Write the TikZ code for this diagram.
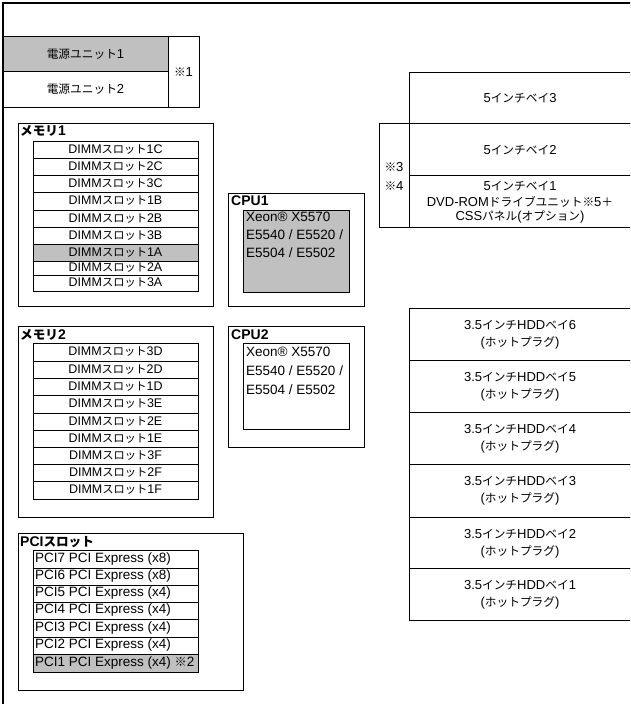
\documentclass[tikz,border=0pt]{standalone}
\usepackage{fontspec}
\setmainfont{Liberation Sans}
\newfontfamily\jp{Noto Sans CJK JP}[Scale=0.9]
\definecolor{boxgray}{RGB}{192,192,192}
\begin{document}
\begin{tikzpicture}[x=1pt,y=-1pt,
  ln/.style={line width=1pt},
  t/.style={inner sep=0pt, font=\fontsize{13}{16}\selectfont},
  tl/.style={inner sep=0pt, anchor=west, font=\fontsize{13.5}{16}\selectfont},
  ts/.style={inner sep=0pt, font=\fontsize{12.5}{15}\selectfont},
  hd/.style={inner sep=0pt, anchor=west, font=\bfseries\fontsize{14}{16}\selectfont}]
\useasboundingbox (0,0) rectangle (630,704);
\clip (0,0) rectangle (630,704);
% outer frame
\draw[line width=1.5pt] (3,705) -- (3,3) -- (631,3);
% power units
\draw[ln, fill=boxgray] (3,36) rectangle (168,71);
\draw[ln] (3,71) rectangle (168,107);
\draw[ln] (168,36) rectangle (199,107);
\node[t] (psu1) at (85.5,54) {{\jp 電源ユニット}1};
\node[t] (psu2) at (85.5,89) {{\jp 電源ユニット}2};
\node[t] (note1) at (183.5,72) {{\jp ※}1};
% memory 1
\draw[ln] (18,123) rectangle (213,306);
\node[hd] (mem1) at (20,131) {{\jp メモリ}1};
\fill[boxgray] (33,244) rectangle (198,261);
\foreach \ya/\yb/\lab [count=\i] in {141/158/1C,158/175/2C,175/192/3C,192/210/1B,210/227/2B,227/244/3B,244/261/1A,261/275/2A,275/291/3A}{
  \draw[ln] (33,\ya) rectangle (198,\yb);
  \node[ts] (mema\i) at (115.5,{(\ya+\yb)/2}) {DIMM{\jp スロット}\lab};
}
% memory 2
\draw[ln] (18,326) rectangle (213,517);
\node[hd] (mem2) at (20,335) {{\jp メモリ}2};
\foreach \ya/\yb/\lab [count=\i] in {343/361/3D,361/378/2D,378/395/1D,395/413/3E,413/430/2E,430/447/1E,447/464/3F,464/481/2F,481/499/1F}{
  \draw[ln] (33,\ya) rectangle (198,\yb);
  \node[ts] (memb\i) at (115.5,{(\ya+\yb)/2}) {DIMM{\jp スロット}\lab};
}
% CPU1
\draw[ln] (228,193) rectangle (364,306);
\node[hd] (cpu1) at (231,201) {CPU1};
\draw[ln, fill=boxgray] (243,210) rectangle (349,292);
\node[tl] (cpu1a) at (246,217) {Xeon® X5570};
\node[tl] (cpu1b) at (246,235) {E5540 / E5520 /};
\node[tl] (cpu1c) at (246,253) {E5504 / E5502};
% CPU2
\draw[ln] (228,326) rectangle (364,447);
\node[hd] (cpu2) at (231,335) {CPU2};
\draw[ln] (243,343) rectangle (349,429);
\node[tl] (cpu2a) at (246,352) {Xeon® X5570};
\node[tl] (cpu2b) at (246,371) {E5540 / E5520 /};
\node[tl] (cpu2c) at (246,390) {E5504 / E5502};
% PCI
\draw[ln] (18,533) rectangle (243,690);
\node[hd] (pci) at (20,542) {PCI{\jp スロット}};
\fill[boxgray] (33,654) rectangle (198,672);
\foreach \ya/\yb/\lab [count=\i] in {550/568/PCI7 PCI Express (x8),568/585/PCI6 PCI Express (x8),585/602/PCI5 PCI Express (x4),602/619/PCI4 PCI Express (x4),619/637/PCI3 PCI Express (x4),637/654/PCI2 PCI Express (x4)}{
  \draw[ln] (33,\ya) rectangle (198,\yb);
  \node[tl] (pcir\i) at (35,{(\ya+\yb)/2}) {\lab};
}
\draw[ln] (33,654) rectangle (198,672);
\node[tl] (pcir7) at (35,663) {PCI1 PCI Express (x4) {\jp ※}2};
% 5-inch bays
\draw[ln] (409,72) rectangle (640,123);
\draw[ln] (409,123) rectangle (640,175);
\draw[ln] (409,175) rectangle (640,227);
\draw[ln] (379,123) rectangle (409,227);
\node[t] (bay3) at (520,98) {5{\jp インチベイ}3};
\node[t] (bay2) at (520,150) {5{\jp インチベイ}2};
\node[t] (bay1a) at (520,186) {5{\jp インチベイ}1};
\node[t] (bay1b) at (520,202) {DVD-ROM{\jp ドライブユニット※}5{\jp ＋}};
\node[t] (bay1c) at (520,217) {CSS{\jp パネル}({\jp オプション})};
\node[t] (note3) at (394,167) {{\jp ※}3};
\node[t] (note4) at (394,186) {{\jp ※}4};
% HDD bays
\foreach \ya/\yb/\n [count=\i] in {308/360/6,360/412/5,412/464/4,464/517/3,517/568/2,568/620/1}{
  \draw[ln] (409,\ya) rectangle (640,\yb);
  \node[t] (hdda\i) at (520,\ya+17) {3.5{\jp インチ}HDD{\jp ベイ}\n};
  \node[t] (hddb\i) at (520,\ya+35) {({\jp ホットプラグ})};
}
\end{tikzpicture}
\end{document}
